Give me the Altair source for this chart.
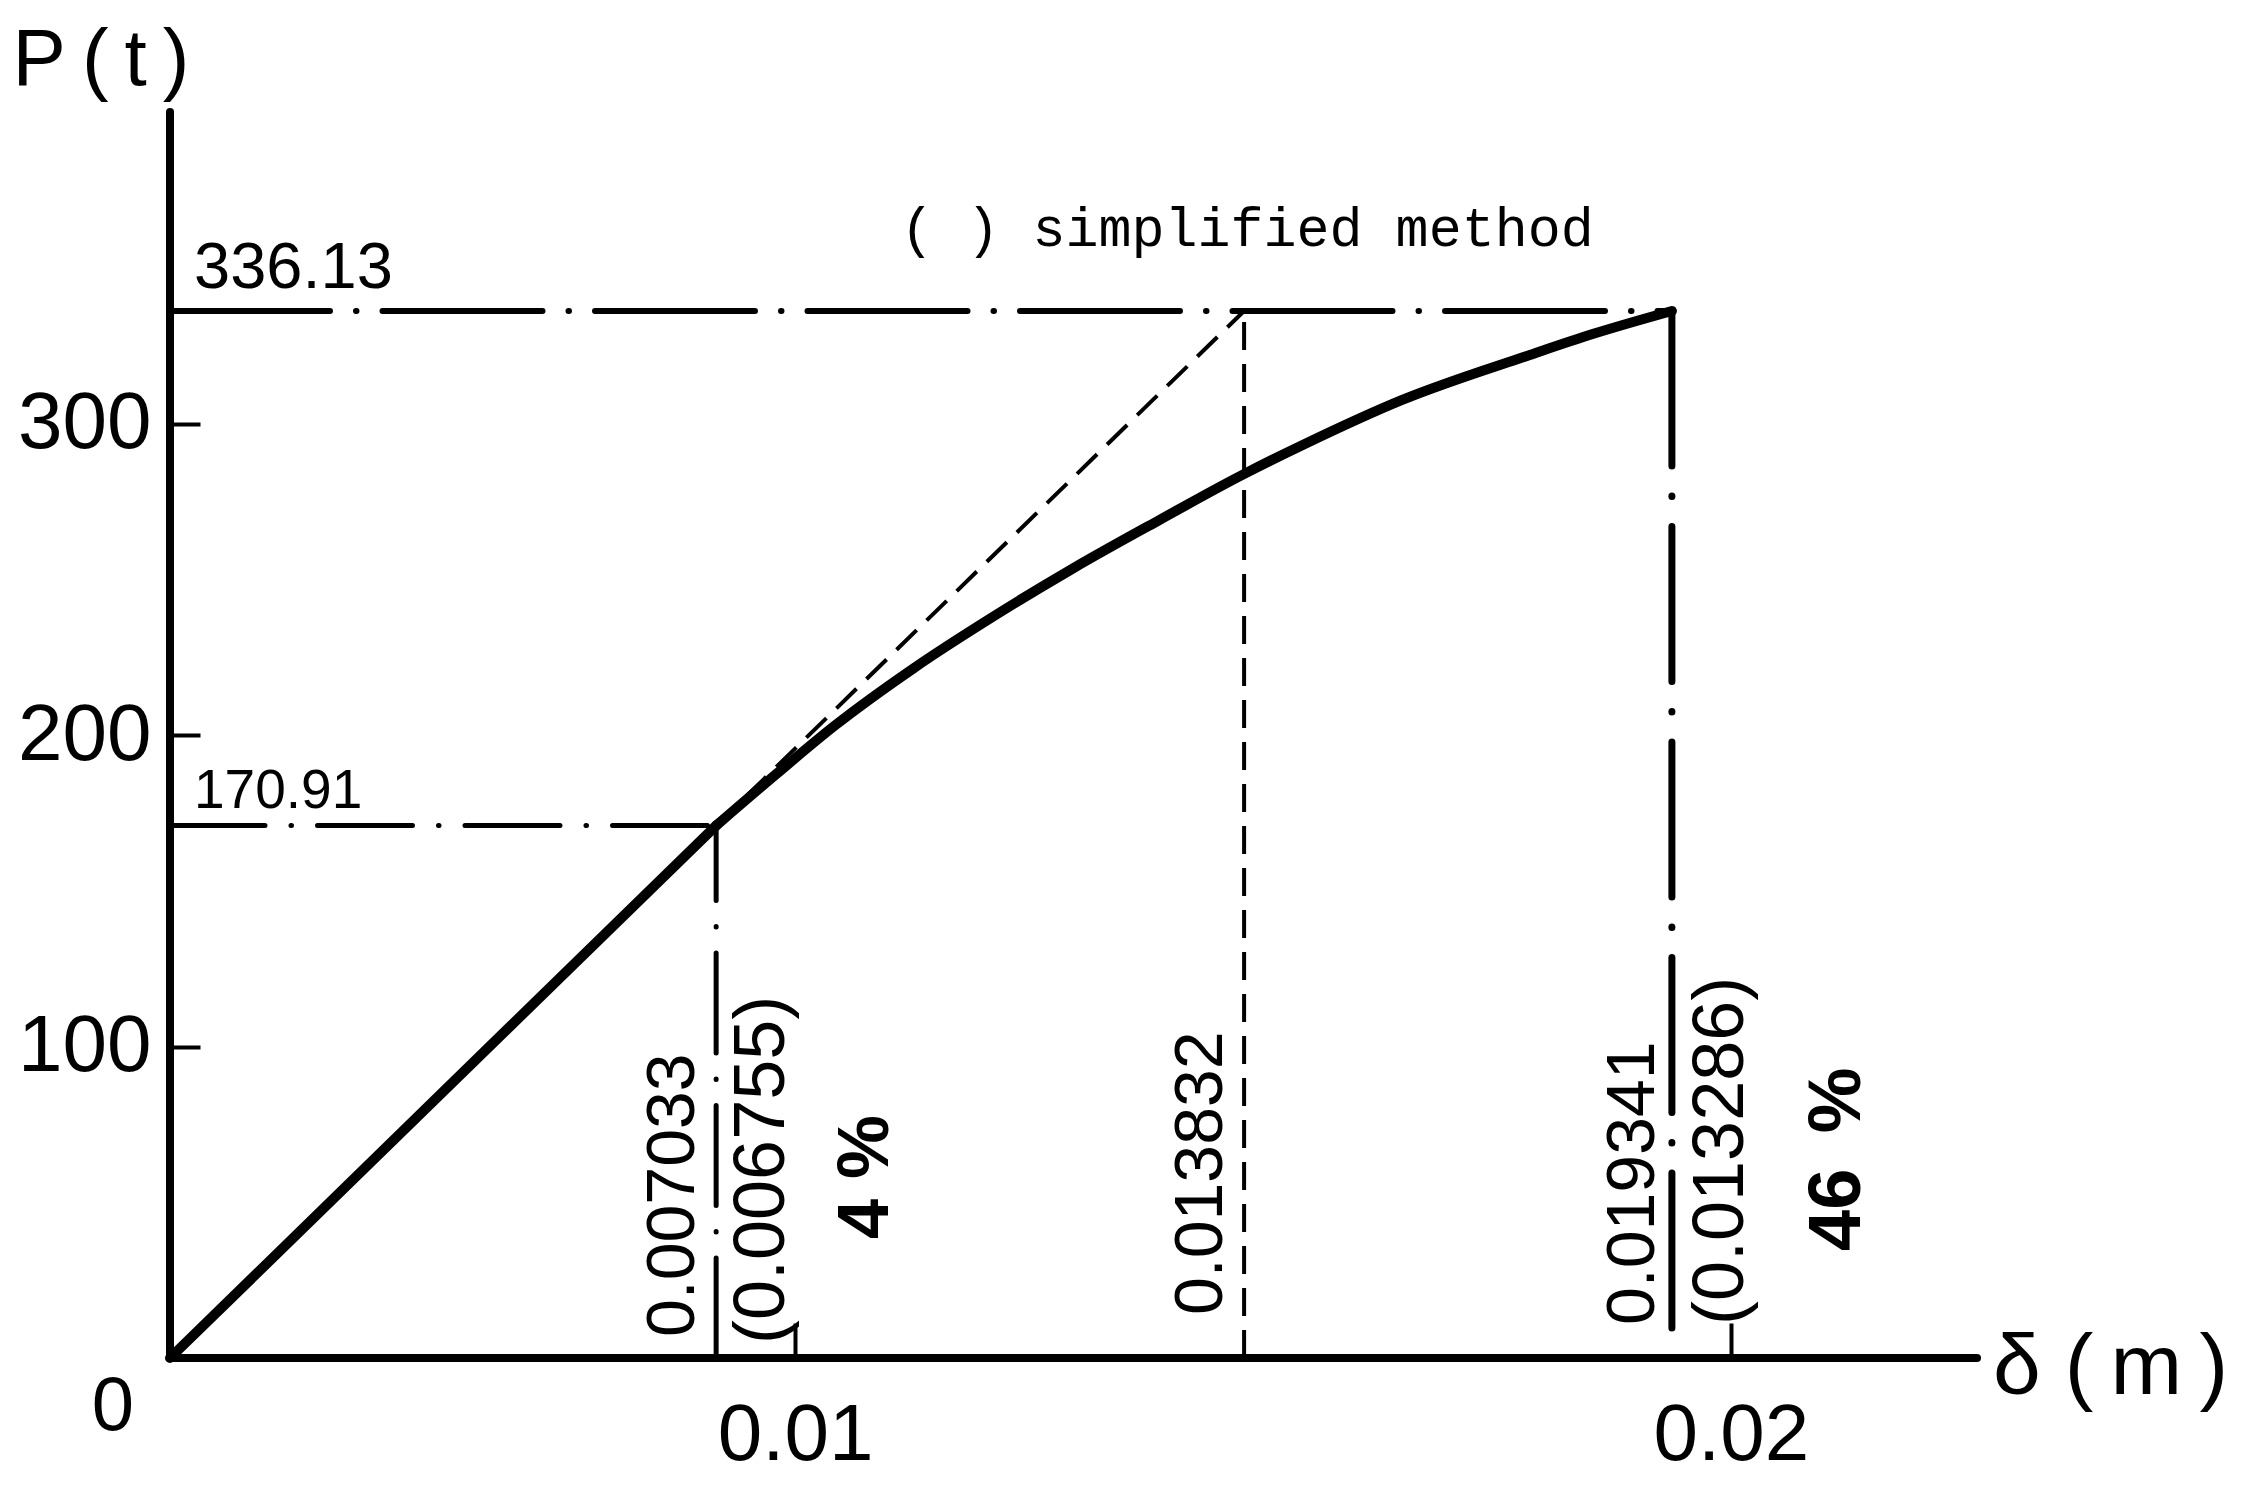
import json
import altair as alt
import pandas as pd

# ---------------- values ----------------
# load-deflection curve (delta in m, P in t)
curve_delta = [0.0, 0.007033, 0.00781, 0.00856, 0.00958, 0.01060, 0.01163,
               0.01274, 0.01381, 0.01462, 0.01586, 0.01751, 0.01833, 0.019341]
curve_load = [0.0, 170.91, 187.5, 203.0, 221.5, 238.0, 253.5,
              269.0, 283.5, 293.5, 307.5, 322.0, 328.8, 336.13]

# elastic line extended to the ultimate load (dashed)
simplified_delta = [0.007033, 0.013832]
simplified_load = [170.91, 336.13]

yield_delta, yield_load = 0.007033, 170.91
ult_delta, ult_load = 0.019341, 336.13
elastic_ult_delta = 0.013832

level_text = ["170.91", "336.13"]

y_tick_values = [100, 200, 300]
x_tick_values = [0.00805, 0.0201]     # where the 0.01 / 0.02 ticks sit in the drawing
x_tick_text = ["0.01", "0.02"]

delta_end, load_end = 0.02327, 400

rot_text = ["0.007033", "(0.006755)", "4 %", "0.013832", "0.019341", "(0.013286)",
            "46\u00a0\u2009%"]
rot_at = [0.007033, 0.007033, 0.007033, 0.013832, 0.019341, 0.019341, 0.019341]

# ---------------- scales / axes ----------------
SANS = "Liberation Sans"
NARROW = "'Liberation Sans Narrow', 'Liberation Sans'"

xs = alt.Scale(domain=[0, delta_end], nice=False, zero=False)
ys = alt.Scale(domain=[0, load_end], nice=False, zero=False)

xv = json.dumps(x_tick_values)
xt = json.dumps(x_tick_text)
x_axis = alt.Axis(values=x_tick_values, labelExpr=f"{xt}[indexof({xv}, datum.value)]",
                  offset=-35, tickSize=35, tickWidth=4, tickColor="black", domain=False,
                  grid=False, title=None, labelFont=SANS, labelFontSize=80,
                  labelColor="black", labelPadding=38, labelFlush=False, labelOverlap=False)
y_axis = alt.Axis(values=y_tick_values, offset=-30, tickSize=30, tickWidth=4, tickColor="black",
                  domain=False, grid=False, title=None, labelFont=SANS, labelFontSize=80,
                  labelColor="black", labelPadding=19, labelAlign="right",
                  labelBaseline="middle", labelFlush=False, labelOverlap=False)

X = alt.X("d:Q", scale=xs, axis=x_axis)
Y = alt.Y("p:Q", scale=ys, axis=y_axis)


def rule(x0, x1, y0, y1, **kw):
    df = pd.DataFrame({"d": [x0], "d2": [x1], "p": [y0], "p2": [y1]})
    return alt.Chart(df).mark_rule(color="black", **kw).encode(
        x=X, x2="d2:Q", y=Y, y2="p2:Q")


def text(label, x, y, **kw):
    df = pd.DataFrame({"d": [x], "p": [y], "t": [label]})
    return alt.Chart(df).mark_text(color="black", **kw).encode(x=X, y=Y, text="t:N")


layers = []

# axis lines
layers.append(rule(0, delta_end, 0, 0, strokeWidth=8, strokeCap="round"))
layers.append(rule(0, 0, 0, load_end, strokeWidth=8, strokeCap="round"))

# chain lines at the two load levels
layers.append(rule(0, ult_delta, ult_load, ult_load, strokeWidth=6, strokeCap="round",
                   strokeDash=[160, 26, 0.5, 26]))
layers.append(rule(0, yield_delta, yield_load, yield_load, strokeWidth=5, strokeCap="round",
                   strokeDash=[95, 26, 0.5, 26]))
# vertical lines
layers.append(rule(yield_delta, yield_delta, 0, yield_load, strokeWidth=5, strokeCap="round",
                   strokeDash=[100, 26, 0.5, 26]))
layers.append(rule(ult_delta, ult_delta, ult_load, 0, strokeWidth=7, strokeCap="round",
                   strokeDash=[155, 30, 0.5, 30]))
layers.append(rule(elastic_ult_delta, elastic_ult_delta, 0, ult_load, strokeWidth=4,
                   strokeDash=[28, 14]))

# dashed elastic extension
simp = pd.DataFrame({"d": simplified_delta, "p": simplified_load})
layers.append(alt.Chart(simp).mark_line(color="black", strokeWidth=4, strokeDash=[28, 14])
              .encode(x=X, y=Y))

# main curve: straight elastic part, then the smooth non-linear part
lin = pd.DataFrame({"d": curve_delta[:2], "p": curve_load[:2]})
nonlin = pd.DataFrame({"d": curve_delta[1:], "p": curve_load[1:]})
layers.append(alt.Chart(lin).mark_line(color="black", strokeWidth=10, strokeCap="round")
              .encode(x=X, y=Y))
layers.append(alt.Chart(nonlin).mark_line(color="black", strokeWidth=10, strokeJoin="round",
                                          strokeCap="round", interpolate="monotone")
              .encode(x=X, y=Y))

# level labels
layers.append(text(level_text[1], 0, ult_load, font=SANS, fontSize=65, align="left",
                   baseline="alphabetic", dx=24, dy=-23))
layers.append(text(level_text[0], 0, yield_load, font=SANS, fontSize=55, align="left",
                   baseline="alphabetic", dx=24, dy=-18))

# axis captions
layers.append(text("P\u2009(\u2009t\u2009)", 0, load_end, font=SANS, fontSize=80, align="center",
                   baseline="alphabetic", dx=-69, dy=-27))
layers.append(text("\u03b4 (\u2009m\u2009)", delta_end, 0, font=SANS, fontSize=86, align="left",
                   baseline="alphabetic", dx=16, dy=36))
layers.append(text("0", 0, 0, font=SANS, fontSize=76, align="center",
                   baseline="alphabetic", dx=-57, dy=72))

# legend note
layers.append(text("( ) simplified method", elastic_ult_delta, ult_load,
                   font="'Liberation Mono', 'DejaVu Sans Mono'", fontSize=55,
                   align="center", baseline="alphabetic", dx=3, dy=-65))

# rotated value labels: (dx = distance above axis, dy = sideways offset, size, bold)
rot_style = [(21, -42, 68, False), (14, 46, 72, False), (119, 150, 72, True),
             (43, -42, 68, False), (33, -38, 68, False), (33, 49, 72, False),
             (107, 166, 74, True)]
for lab, at, (ddx, ddy, fs, bold) in zip(rot_text, rot_at, rot_style):
    layers.append(text(lab, at, 0, font=NARROW if not bold else SANS, fontSize=fs,
                       fontWeight="bold" if bold else "normal", angle=270,
                       align="left", baseline="middle", dx=ddx, dy=ddy))

chart = alt.layer(*layers).properties(
    width=1807, height=1246,
    background="white",
    autosize=alt.AutoSizeParams(type="none"),
    padding={"left": 162, "top": 104, "right": 265, "bottom": 120},
).configure_view(strokeWidth=0, stroke=None)

chart.save("out.html", embed_options={"renderer": "svg", "actions": False})
